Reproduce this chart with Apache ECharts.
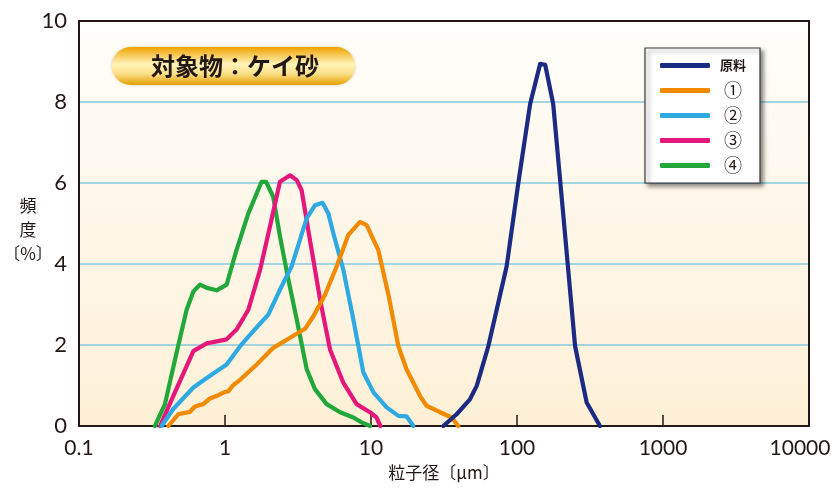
<!DOCTYPE html>
<html><head><meta charset="utf-8">
<script src="https://cdn.jsdelivr.net/npm/echarts@6/dist/echarts.min.js"></script>
<style>html,body{margin:0;padding:0;background:#fff}#c{width:832px;height:488px}</style>
</head><body><div id="c"></div>
<script>
var seriesNames = ['原料', '①', '②', '③', '④'];
var xTickLabels = ['0.1', '1', '10', '100', '1000', '10000'];
var yTickLabels = ['0', '2', '4', '6', '8', '10'];

var rawX = [31.3, 38.6, 47.6, 53.0, 63.6, 84.9, 102, 123, 144, 156, 177, 208, 250, 300, 370];
var rawY = [0, 0.29, 0.66, 0.99, 1.97, 3.94, 5.99, 7.95, 8.94, 8.92, 7.95, 5.17, 1.97, 0.58, 0];

var s1X = [0.409, 0.479, 0.575, 0.623, 0.710, 0.789, 0.900, 1.00, 1.055, 1.14, 1.27, 1.65, 2.14, 2.79, 3.53, 4.03, 4.84, 5.82, 7.00, 8.41, 9.34, 11.2, 13.1, 15.4, 17.5, 21.7, 24.0, 29.7, 35.7, 39.6];
var s1Y = [0, 0.29, 0.35, 0.48, 0.54, 0.68, 0.76, 0.84, 0.86, 1.01, 1.14, 1.52, 1.93, 2.18, 2.40, 2.71, 3.24, 3.94, 4.72, 5.04, 4.96, 4.35, 3.28, 1.97, 1.40, 0.74, 0.50, 0.34, 0.21, 0];

var s2X = [0.368, 0.442, 0.607, 0.789, 1.026, 1.27, 1.56, 1.98, 2.38, 2.86, 3.63, 4.13, 4.66, 5.10, 5.52, 6.46, 7.57, 8.87, 10.4, 12.8, 15.4, 17.5, 19.5];
var s2Y = [0, 0.42, 0.95, 1.24, 1.52, 1.97, 2.34, 2.75, 3.37, 3.94, 5.13, 5.45, 5.51, 5.25, 4.76, 3.86, 2.63, 1.32, 0.83, 0.46, 0.25, 0.24, 0];

var s3X = [0.359, 0.442, 0.607, 0.750, 1.026, 1.20, 1.445, 1.74, 2.03, 2.38, 2.79, 3.10, 3.35, 3.82, 4.48, 5.24, 6.46, 7.97, 9.84, 10.9, 11.6];
var s3Y = [0, 0.74, 1.85, 2.04, 2.14, 2.38, 2.87, 3.86, 4.92, 6.03, 6.19, 6.07, 5.82, 4.59, 3.12, 1.89, 1.07, 0.54, 0.34, 0.21, 0];

var s4X = [0.331, 0.388, 0.455, 0.546, 0.607, 0.674, 0.750, 0.877, 1.026, 1.20, 1.445, 1.78, 1.91, 2.14, 2.38, 2.72, 3.10, 3.63, 4.13, 4.97, 6.14, 7.57, 8.63, 9.84];
var s4Y = [0, 0.54, 1.65, 2.87, 3.32, 3.49, 3.41, 3.35, 3.49, 4.35, 5.25, 6.03, 6.03, 5.66, 4.68, 3.61, 2.63, 1.40, 0.91, 0.54, 0.34, 0.21, 0.09, 0];

var colors = ['#1b2a83', '#f18a00', '#2fa9e1', '#e5177b', '#22a83a'];
var xs = [rawX, s1X, s2X, s3X, s4X];
var ys = [rawY, s1Y, s2Y, s3Y, s4Y];

function pairs(a, b) { return a.map(function (v, i) { return [v, b[i]]; }); }

var chart = echarts.init(document.getElementById('c'), null, { renderer: 'canvas' });
var font = 'Lato, "Noto Sans", sans-serif';
var jp = '"Noto Sans CJK JP", sans-serif';
var dark = '#231815';

var series = seriesNames.map(function (n, i) {
  return {
    name: n, type: 'line', data: pairs(xs[i], ys[i]),
    showSymbol: false, symbol: 'none', smooth: false,
    lineStyle: { color: colors[i], width: 4.2, cap: 'round', join: 'round' },
    itemStyle: { color: colors[i] },
    z: 10 - i
  };
});

chart.setOption({
  animation: false,
  backgroundColor: '#ffffff',
  grid: {
    left: 79, right: 23, top: 21, bottom: 62, show: true,
    outerBoundsMode: 'none', containLabel: false,
    borderColor: dark, borderWidth: 0,
    backgroundColor: new echarts.graphic.LinearGradient(0, 0, 0, 1, [
      { offset: 0, color: '#fffefb' }, { offset: 1, color: '#fdf0d6' }
    ])
  },
  xAxis: [{
    type: 'log', logBase: 10, min: 0.1, max: 10000,
    axisLine: { show: true, onZero: false, lineStyle: { color: dark, width: 2 } },
    axisTick: { show: true, inside: true, length: 11, lineStyle: { color: dark, width: 1.5 } },
    minorTick: { show: false },
    splitLine: { show: false },
    axisLabel: {
      color: dark, fontSize: 21, fontFamily: font, margin: 12,
      formatter: function (v) {
        var idx = Math.round(Math.log10(v)) + 1;
        var t = xTickLabels[idx] !== undefined ? xTickLabels[idx] : '';
        return idx === xTickLabels.length - 1 ? '{r|' + t + '}' : t;
      },
      rich: { r: { fontSize: 21, fontFamily: font, color: dark, padding: [0, 18, 0, 0] } }
    },
    name: '粒子径〔μm〕', nameLocation: 'middle', nameGap: 38,
    nameTextStyle: { color: dark, fontSize: 17, fontFamily: jp }
  }, {
    type: 'log', logBase: 10, min: 0.1, max: 10000, position: 'top',
    axisLine: { show: true, onZero: false, lineStyle: { color: dark, width: 2 } },
    axisTick: { show: false }, axisLabel: { show: false }, splitLine: { show: false }, z: 5
  }],
  yAxis: [{
    type: 'value', min: 0, max: 10, interval: 2,
    axisLine: { show: true, onZero: false, lineStyle: { color: dark, width: 2 } },
    axisTick: { show: false },
    splitLine: { show: true, lineStyle: { color: '#86c9de', width: 1.5 } },
    axisLabel: {
      color: dark, fontSize: 22, fontFamily: font, margin: 12,
      formatter: function (v) { return yTickLabels[Math.round(v / 2)]; }
    }
  }, {
    type: 'value', min: 0, max: 10, interval: 2, position: 'right',
    axisLine: { show: true, onZero: false, lineStyle: { color: dark, width: 2 } },
    axisTick: { show: false }, axisLabel: { show: false }, splitLine: { show: false }, z: 5
  }],
  legend: {
    orient: 'vertical', left: 645, top: 48,
    padding: [5, 9, 5, 15],
    itemWidth: 50, itemHeight: 5, itemGap: 0,
    icon: 'roundRect',
    backgroundColor: '#ffffff', borderColor: '#3a3a3a', borderWidth: 1.2,
    shadowColor: 'rgba(0,0,0,0.45)', shadowBlur: 4, shadowOffsetX: 3, shadowOffsetY: 3,
    data: seriesNames,
    formatter: function (n) { return n === '原料' ? '{b|' + n + '}' : '{c|' + n + '}'; },
    textStyle: {
      rich: {
        b: { width: 36, height: 25, lineHeight: 25, align: 'center', fontSize: 13, fontWeight: 'bold', fontFamily: jp, color: dark },
        c: { width: 36, height: 25, lineHeight: 25, align: 'center', fontSize: 18, fontFamily: jp, color: dark }
      }
    }
  },
  graphic: [
    {
      type: 'rect', left: 112, top: 47, z: 50,
      shape: { width: 243, height: 38, r: 19 },
      style: {
        fill: new echarts.graphic.LinearGradient(0, 0, 0, 1, [
          { offset: 0, color: '#eea300' }, { offset: 0.45, color: '#fff4b8' },
          { offset: 0.7, color: '#fbe08a' }, { offset: 1, color: '#e2a000' }
        ]),
        shadowColor: 'rgba(150,100,0,0.35)', shadowBlur: 3
      }
    },
    {
      type: 'text', z: 52, x: 235, y: 66,
      style: {
        text: '対象物：ケイ砂', fill: dark, font: 'bold 24px "Noto Sans CJK JP"',
        textAlign: 'center', textVerticalAlign: 'middle'
      }
    },
    {
      type: 'text', z: 52, x: 28, y: 230,
      style: {
        text: '頻\n度\n〔%〕', fill: dark, font: '17px "Noto Sans CJK JP"',
        textAlign: 'center', textVerticalAlign: 'middle', lineHeight: 24
      }
    }
  ],
  series: series
});
</script></body></html>
